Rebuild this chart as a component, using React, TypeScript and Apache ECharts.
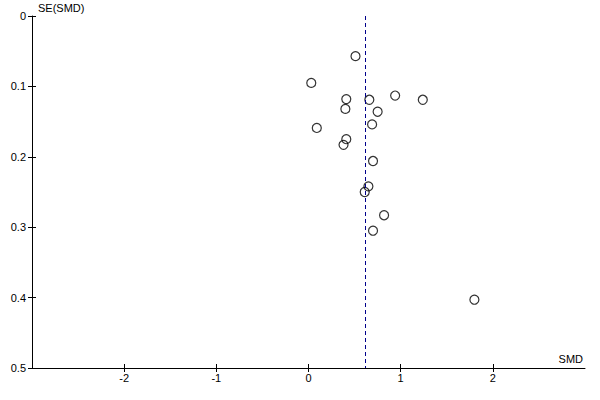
import React, { useEffect, useRef } from "react";
import * as echarts from "echarts";

const smd = [0.51, 0.03, 0.41, 0.66, 0.94, 1.24, 0.4, 0.75, 0.09, 0.69, 0.41, 0.38, 0.7, 0.65, 0.61, 0.82, 0.7, 1.8];
const se = [0.057, 0.095, 0.118, 0.119, 0.113, 0.119, 0.132, 0.136, 0.159, 0.154, 0.175, 0.183, 0.206, 0.242, 0.25, 0.283, 0.305, 0.403];
const pooled = 0.62;
const xTicks = [-2, -1, 0, 1, 2];
const yTicks = [0, 0.1, 0.2, 0.3, 0.4, 0.5];
const xName = "SMD";
const yName = "SE(SMD)";

const FONT = "'Liberation Sans', Arial, sans-serif";

export default function App() {
  const ref = useRef<HTMLDivElement>(null);
  useEffect(() => {
    if (!ref.current) return;
    const chart = echarts.init(ref.current, null, { renderer: "svg" });
    const baseX = {
      type: "value",
      min: -3,
      max: 3,
      position: "bottom",
      splitLine: { show: false },
    };
    const baseY = {
      type: "value",
      min: 0,
      max: 0.5,
      inverse: true,
      position: "left",
      splitLine: { show: false },
    };
    chart.setOption({
      animation: false,
      backgroundColor: "#fff",
      grid: { left: 32, top: 16, right: 15, bottom: 32, containLabel: false },
      xAxis: [
        {
          ...baseX,
          axisLine: { show: true, onZero: false, lineStyle: { color: "#000", width: 1 } },
          axisTick: { show: true, customValues: xTicks, length: 4, lineStyle: { color: "#000" } },
          axisLabel: { show: true, customValues: xTicks, color: "#000", fontSize: 11, fontFamily: FONT, margin: 4 },
        },
        {
          ...baseX,
          axisLine: { show: false, onZero: false },
          axisTick: { show: true, inside: true, customValues: xTicks, length: 4, lineStyle: { color: "#000" } },
          axisLabel: { show: false },
        },
      ],
      yAxis: [
        {
          ...baseY,
          axisLine: { show: true, onZero: false, lineStyle: { color: "#000", width: 1 } },
          axisTick: { show: true, customValues: yTicks, length: 4, lineStyle: { color: "#000" } },
          axisLabel: { show: true, customValues: yTicks, color: "#000", fontSize: 11, fontFamily: FONT, margin: 6 },
        },
        {
          ...baseY,
          axisLine: { show: false, onZero: false },
          axisTick: { show: true, inside: true, customValues: yTicks.slice(0, 5), length: 4, lineStyle: { color: "#000" } },
          axisLabel: { show: false },
        },
      ],
      graphic: [
        {
          type: "text",
          left: 38,
          top: 2,
          style: { text: yName, fill: "#000", font: `11px ${FONT}` },
        },
        {
          type: "text",
          right: 17,
          top: 353,
          style: { text: xName, fill: "#000", font: `11px ${FONT}` },
        },
      ],
      series: [
        {
          type: "scatter",
          xAxisIndex: 0,
          yAxisIndex: 0,
          data: smd.map((x, i) => [x, se[i]]),
          symbol: "circle",
          symbolSize: 9,
          itemStyle: { color: "rgba(0,0,0,0)", borderColor: "#000", borderWidth: 1.2 },
          emphasis: { disabled: true },
          markLine: {
            silent: true,
            symbol: "none",
            label: { show: false },
            lineStyle: { color: "#00008b", type: [4, 3], width: 1 },
            data: [{ xAxis: pooled }],
          },
          z: 3,
        },
      ],
    });
    return () => chart.dispose();
  }, []);
  return (
    <div
      ref={ref}
      style={{ position: "fixed", left: 0, top: 0, width: 600, height: 400, background: "#fff" }}
    />
  );
}
